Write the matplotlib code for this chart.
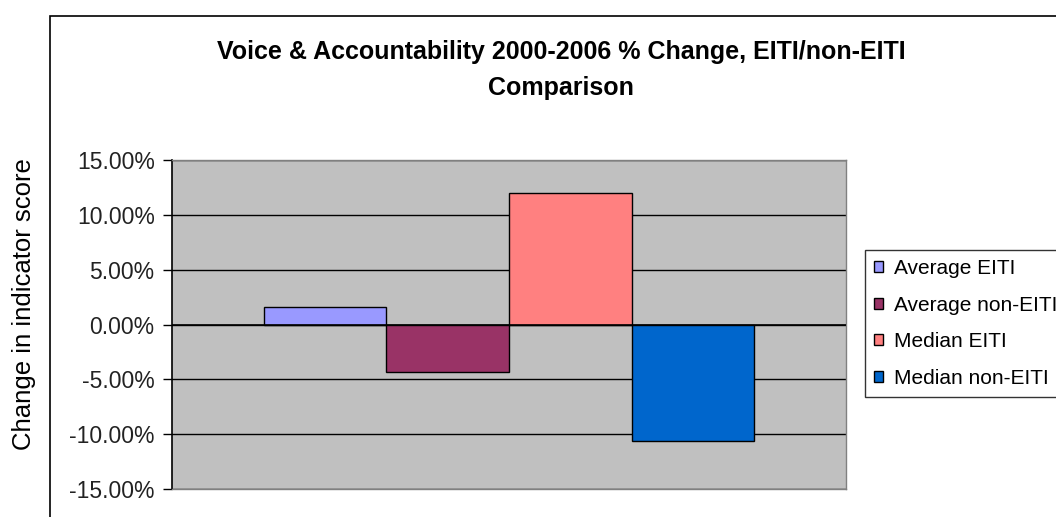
import numpy as np
import matplotlib.pyplot as plt
from matplotlib.patches import Rectangle
from matplotlib.ticker import FuncFormatter

SERIES = ["Average EITI", "Average non-EITI", "Median EITI", "Median non-EITI"]
VALUES = [1.6, -4.3, 12.0, -10.6]
COLORS = ["#9999FF", "#993366", "#FF8080", "#0066CC"]
TITLE_1 = "Voice & Accountability 2000-2006 % Change, EITI/non-EITI"
TITLE_2 = "Comparison"
YLABEL = "Change in indicator score"
YTICKS = [-15, -10, -5, 0, 5, 10, 15]

W, H = 1056, 517

plt.rcParams["font.family"] = ["Liberation Sans", "DejaVu Sans"]

fig = plt.figure(figsize=(W / 100, H / 100), dpi=100)
fig.patch.set_facecolor("white")

# chart frame (runs off the right and bottom edges)
fig.patches.append(Rectangle((50 / W, -0.1), 1.2, 1 - 16 / H + 0.1,
                             transform=fig.transFigure, fill=False,
                             edgecolor="black", linewidth=1.2))

ax = fig.add_axes([172 / W, 1 - 489 / H, (846 - 172) / W, (489 - 160) / H])
ax.set_facecolor("#C0C0C0")

bw = 0.182
x0 = -1.5 * bw
for i, (name, v, c) in enumerate(zip(SERIES, VALUES, COLORS)):
    ax.bar(x0 + i * bw, v, width=bw, color=c, edgecolor="black",
           linewidth=1.0, label=name, zorder=3)

ax.set_xlim(-0.5, 0.5)
ax.set_ylim(-15, 15)
ax.set_yticks(YTICKS)
ax.yaxis.set_major_formatter(FuncFormatter(lambda v, p: f"{v:.2f}%"))
ax.set_xticks([])
ax.grid(axis="y", color="black", linewidth=1.0, zorder=1)
ax.axhline(0, color="black", linewidth=1.2, zorder=4)
ax.tick_params(axis="y", direction="out", length=6.5, width=1.0,
               labelsize=16.5, labelcolor="#222222", pad=6)

for s in ["top", "right", "bottom"]:
    ax.spines[s].set_color("#808080")
    ax.spines[s].set_linewidth(1.0)
ax.spines["left"].set_color("black")
ax.spines["left"].set_linewidth(1.2)

fig.text(561 / W, 1 - 52 / H, TITLE_1,
         ha="center", va="center", fontsize=18, fontweight="bold")
fig.text(561 / W, 1 - 88 / H, TITLE_2,
         ha="center", va="center", fontsize=18, fontweight="bold")

fig.text(24 / W, 1 - 304 / H, YLABEL, rotation=90, ha="center", va="center",
         fontsize=18.5)

# legend runs off the right edge, as in the original screenshot
leg = fig.legend(loc="upper left", bbox_to_anchor=(865 / W, 1 - 250 / H),
                 fontsize=15, frameon=True, fancybox=False,
                 handlelength=0.43, handleheight=0.43, handletextpad=0.5,
                 labelspacing=0.84, borderpad=0.45, borderaxespad=0)
leg.get_frame().set_edgecolor("black")
leg.get_frame().set_linewidth(1.0)

fig.savefig("out.png", dpi=100)
